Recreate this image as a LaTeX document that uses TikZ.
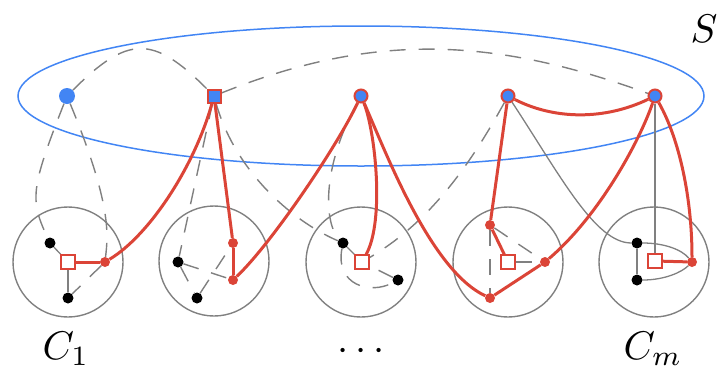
\documentclass[tikz,border=0pt]{standalone}
\definecolor{myblue}{RGB}{66,133,244}
\definecolor{myred}{RGB}{219,68,55}
\definecolor{mygray}{RGB}{128,128,128}
\pgfdeclarelayer{back}
\pgfdeclarelayer{edges}
\pgfsetlayers{back,edges,main}
\begin{document}
\begin{tikzpicture}[x=1pt,y=-1pt,
  cluster/.style={circle,draw=mygray,line width=1.4pt,minimum size=110pt,inner sep=0pt},
  bdot/.style={circle,fill=black,minimum size=11pt,inner sep=0pt},
  rdot/.style={circle,fill=myred,minimum size=10pt,inner sep=0pt},
  rsq/.style={rectangle,draw=myred,fill=white,line width=1.8pt,minimum size=13.5pt,inner sep=0pt},
  sdot/.style={circle,fill=myblue,minimum size=16pt,inner sep=0pt},
  ssq/.style={rectangle,draw=myred,fill=myblue,line width=2pt,minimum size=13pt,inner sep=0pt},
  scirc/.style={circle,draw=myred,fill=myblue,line width=2pt,minimum size=13pt,inner sep=0pt},
  redge/.style={draw=myred,line width=3pt},
  gedge/.style={draw=mygray,line width=1.3pt},
  dedge/.style={draw=mygray,line width=1.4pt,dash pattern=on 16pt off 13pt},
  lab/.style={anchor=base,inner sep=0pt}
]
\useasboundingbox (0,0) rectangle (717,370);
% S vertices
\node[sdot] (s1) at (67,96) {};
\node[ssq] (s2) at (214,96) {};
\node[scirc] (s3) at (361,96) {};
\node[scirc] (s4) at (508,96) {};
\node[scirc] (s5) at (655,96) {};
% cluster contents
\node[bdot] (A1) at (50,243) {};
\node[rsq] (Q1) at (68,262) {};
\node[rdot] (R1) at (105,262) {};
\node[bdot] (B1) at (68,298) {};
\node[bdot] (A2) at (178,262) {};
\node[bdot] (B2) at (197,298) {};
\node[rdot] (R2a) at (233,243) {};
\node[rdot] (R2b) at (233,280) {};
\node[bdot] (A3) at (343,243) {};
\node[rsq] (Q3) at (362,262) {};
\node[bdot] (B3) at (398,280) {};
\node[rdot] (R4a) at (490,225) {};
\node[rsq] (Q4) at (508,262) {};
\node[rdot] (R4b) at (545,262) {};
\node[rdot] (R4c) at (490,298) {};
\node[bdot] (A5) at (637,243) {};
\node[bdot] (B5) at (637,280) {};
\node[rsq] (Q5) at (655,261) {};
\node[rdot] (R5) at (692,262) {};
% labels
\node[lab] (c1) at (66,359) {\scalebox{4}{$C_1$}};
\node[lab] (cd) at (361,360) {\scalebox{4}{$\cdots$}};
\node[lab] (cm) at (653,359) {\scalebox{4}{$C_m$}};
\node[lab] (Slab) at (704,42) {\scalebox{4}{$S$}};
\begin{pgfonlayer}{back}
\draw[myblue,line width=1.5pt] (361,96) ellipse [x radius=343pt, y radius=70pt];
\node[cluster] (K1) at (68,262) {};
\node[cluster] (K2) at (214,261) {};
\node[cluster] (K3) at (361,262) {};
\node[cluster] (K4) at (508,262) {};
\node[cluster] (K5) at (654,262) {};
\end{pgfonlayer}
\begin{pgfonlayer}{edges}
% dashed gray
\path[dedge] (s1) .. controls (128,35) and (153,35) .. (s2);
\path[dedge] (s2) .. controls (373,32) and (493,37) .. (s5);
\path[dedge] (s1) .. controls (30,190) and (30,200) .. (A1);
\path[dedge] (s1) .. controls (112,205) and (108,235) .. (R1);
\path[dedge] (R1) -- (B1);
\path[dedge] (s2) -- (A2);
\path[dedge] (s2) .. controls (235,170) and (290,220) .. (A3);
\path[dedge] (s3) .. controls (320,170) and (325,225) .. (A3);
\path[dedge] (s4) .. controls (470,165) and (430,222) .. (Q3);
\path[dedge] (A2) -- (R2b);
\path[dedge] (A2) -- (B2);
\path[dedge] (B2) -- (R2a);
\path[dedge] (A3) .. controls (335,285) and (370,295) .. (B3);
\path[dedge] (B3) -- (Q3);
\path[dedge] (R4a) -- (R4c);
\path[dedge] (R4a) -- (R4b);
\path[dedge] (Q4) -- (R4b);
% solid gray
\path[gedge] (A1) -- (Q1);
\path[gedge] (B1) -- (Q1);
\path[gedge] (A3) -- (Q3);
\path[gedge] (A5) -- (B5);
\path[gedge] (s5) -- (Q5);
\path[gedge] (A5) .. controls (665,243) and (682,250) .. (R5);
\path[gedge] (B5) .. controls (665,280) and (682,272) .. (R5);
\path[gedge] (s4) .. controls (560,175) and (595,243) .. (A5);
% red
\path[redge] (Q1) -- (R1);
\path[redge] (s2) .. controls (195,165) and (150,235) .. (R1);
\path[redge] (s2) -- (R2a);
\path[redge] (R2a) -- (R2b);
\path[redge] (R2b) .. controls (270,245) and (335,150) .. (s3);
\path[redge] (s3) .. controls (375,130) and (385,220) .. (Q3);
\path[redge] (s3) .. controls (385,150) and (430,270) .. (R4c);
\path[redge] (s4) -- (R4a);
\path[redge] (R4a) -- (Q4);
\path[redge] (R4c) -- (R4b);
\path[redge] (R4b) .. controls (600,215) and (640,140) .. (s5);
\path[redge] (s4) .. controls (555,120) and (605,120) .. (s5);
\path[redge] (s5) .. controls (680,140) and (692,200) .. (R5);
\path[redge] (Q5) -- (R5);
\end{pgfonlayer}
\end{tikzpicture}
\end{document}
